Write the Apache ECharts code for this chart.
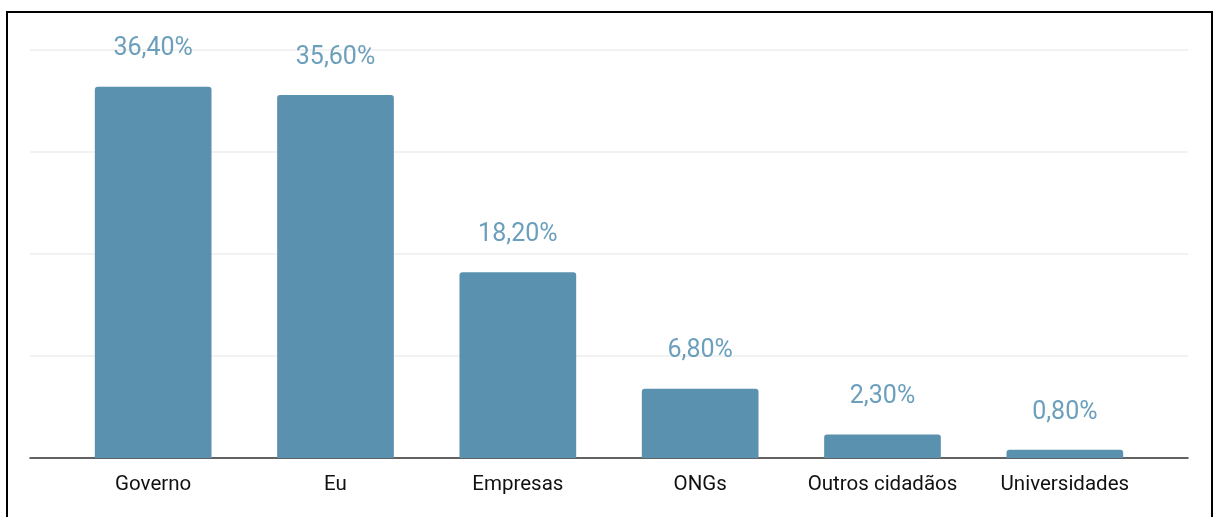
<!DOCTYPE html>
<html><head><meta charset="utf-8">
<script src="https://cdn.jsdelivr.net/npm/echarts@6/dist/echarts.min.js"></script>
<style>html,body{margin:0;padding:0;background:#fff}#c{width:1214px;height:517px}</style>
</head><body><div id="c"></div>
<script>
const categories = ['Governo', 'Eu', 'Empresas', 'ONGs', 'Outros cidadãos', 'Universidades'];
const values = [36.4, 35.6, 18.2, 6.8, 2.3, 0.8];
const yMax = 40, yInterval = 10;

const chart = echarts.init(document.getElementById('c'));
chart.setOption({
  animation: false,
  textStyle: { fontFamily: 'Roboto' },
  grid: [
    { left: 30, right: 26, top: 50, bottom: 59 },
    { left: 62, right: 58, top: 50, bottom: 59 }
  ],
  xAxis: [
    { gridIndex: 0, type: 'category', data: categories, axisLabel: { show: false }, axisTick: { show: false },
      axisLine: { show: true, lineStyle: { color: '#333', width: 1.5 } } },
    { gridIndex: 1, type: 'category', data: categories, axisTick: { show: false }, axisLine: { show: false },
      axisLabel: { color: '#111', fontSize: 20.5, margin: 16, interval: 0, fontFamily: 'Roboto' } }
  ],
  yAxis: [
    { gridIndex: 0, type: 'value', min: 0, max: yMax, interval: yInterval, axisLabel: { show: false },
      axisLine: { show: false }, axisTick: { show: false },
      splitLine: { lineStyle: { color: '#eeeeee', width: 1.5 } } },
    { gridIndex: 1, type: 'value', min: 0, max: yMax, interval: yInterval, axisLabel: { show: false },
      axisLine: { show: false }, axisTick: { show: false }, splitLine: { show: false } }
  ],
  series: [{
    type: 'bar', xAxisIndex: 1, yAxisIndex: 1, data: values, barWidth: '64%',
    itemStyle: { color: '#5a91ae', borderRadius: [3, 3, 0, 0] },
    label: { show: true, position: 'top', distance: 25, fontSize: 25, color: '#6b9fbb', fontFamily: 'Roboto',
      formatter: p => p.value.toFixed(2).replace('.', ',') + '%' }
  }],
  graphic: [{ type: 'rect', shape: { x: 7, y: 12, width: 1205, height: 520 }, silent: true,
    style: { fill: 'none', stroke: '#000', lineWidth: 2 } }]
});
</script></body></html>
